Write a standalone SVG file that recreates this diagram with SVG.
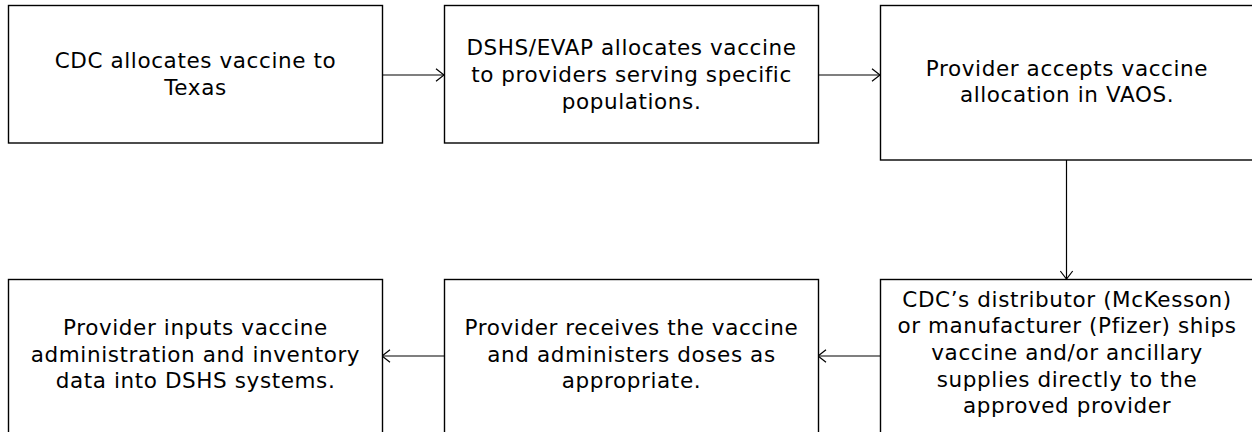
<svg xmlns="http://www.w3.org/2000/svg" width="1252" height="432" viewBox="0 0 1252 432">
<style>
.box{fill:#fff;stroke:#000;stroke-width:1.4}
.lbl{font-family:"DejaVu Sans",Verdana,sans-serif;font-size:21.5px;letter-spacing:0.6px;fill:#000;text-anchor:middle}
.conn{stroke:#000;stroke-width:1.2;fill:none}
</style>
<defs>
<marker id="arr" viewBox="0 0 10 14" refX="9.5" refY="7" markerWidth="10" markerHeight="14" markerUnits="userSpaceOnUse" orient="auto">
<path d="M1.5,0.8 L9.5,7 L1.5,13.2" fill="none" stroke="#000" stroke-width="1.2"/>
</marker>
</defs>
<rect width="1252" height="432" fill="#fff"/>
<g id="connectors">
<line class="conn" x1="382" y1="75" x2="444" y2="75" marker-end="url(#arr)"/>
<line class="conn" x1="818" y1="75" x2="880" y2="75" marker-end="url(#arr)"/>
<line class="conn" x1="1066.5" y1="160" x2="1066.5" y2="279" marker-end="url(#arr)"/>
<line class="conn" x1="880" y1="356" x2="818" y2="356" marker-end="url(#arr)"/>
<line class="conn" x1="444" y1="356" x2="382" y2="356" marker-end="url(#arr)"/>
</g>
<g id="n1">
<rect class="box" x="8.5" y="5.5" width="374" height="137.5"/>
<text class="lbl"><tspan x="195.5" y="68">CDC allocates vaccine to</tspan><tspan x="195.5" y="95">Texas</tspan></text>
</g>
<g id="n2">
<rect class="box" x="444.5" y="5.5" width="374" height="137.5"/>
<text class="lbl"><tspan x="631.5" y="55">DSHS/EVAP allocates vaccine</tspan><tspan x="631.5" y="82">to providers serving specific</tspan><tspan x="631.5" y="108.5">populations.</tspan></text>
</g>
<g id="n3">
<rect class="box" x="880.5" y="5.5" width="374" height="154.5"/>
<text class="lbl"><tspan x="1067" y="76">Provider accepts vaccine</tspan><tspan x="1067" y="102">allocation in VAOS.</tspan></text>
</g>
<g id="n4">
<rect class="box" x="880.5" y="279.5" width="374" height="160"/>
<text class="lbl"><tspan x="1067" y="306.7">CDC’s distributor (McKesson)</tspan><tspan x="1067" y="333.3">or manufacturer (Pfizer) ships</tspan><tspan x="1067" y="360">vaccine and/or ancillary</tspan><tspan x="1067" y="386.7">supplies directly to the</tspan><tspan x="1067" y="413.3">approved provider</tspan></text>
</g>
<g id="n5">
<rect class="box" x="444.5" y="279.5" width="374" height="160"/>
<text class="lbl"><tspan x="631.5" y="335">Provider receives the vaccine</tspan><tspan x="631.5" y="361.7">and administers doses as</tspan><tspan x="631.5" y="388.3">appropriate.</tspan></text>
</g>
<g id="n6">
<rect class="box" x="8.5" y="279.5" width="374" height="160"/>
<text class="lbl"><tspan x="195.5" y="335">Provider inputs vaccine</tspan><tspan x="195.5" y="361.7">administration and inventory</tspan><tspan x="195.5" y="388.3">data into DSHS systems.</tspan></text>
</g>
</svg>
